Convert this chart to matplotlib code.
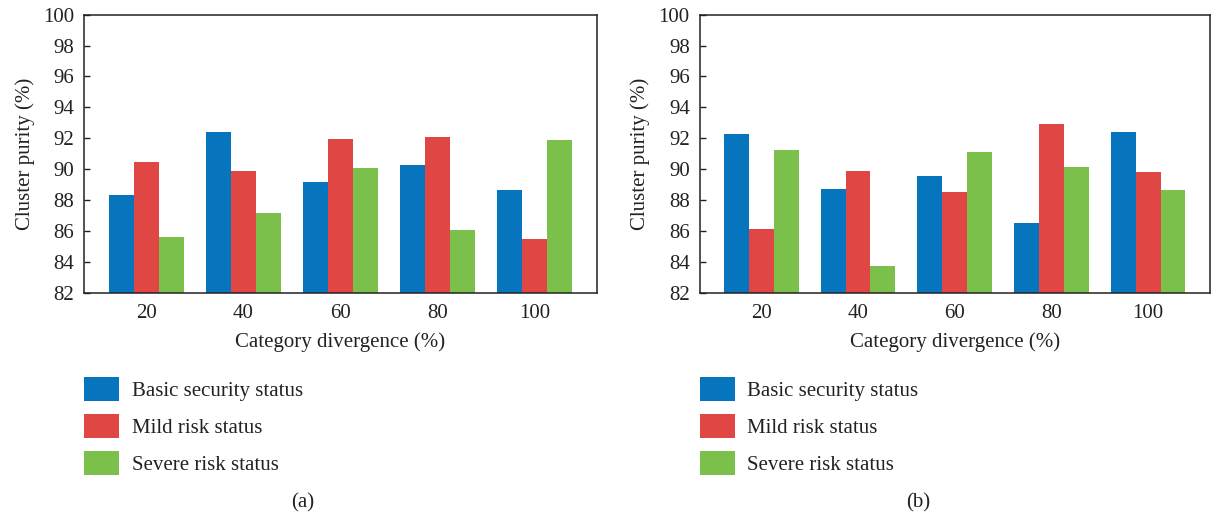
import numpy as np
import matplotlib
matplotlib.use("Agg")
import matplotlib.pyplot as plt

plt.rcParams['font.family'] = ['Liberation Serif', 'DejaVu Serif']
plt.rcParams['font.size'] = 15

divergence = ['20', '40', '60', '80', '100']
series_names = ['Basic security status', 'Mild risk status', 'Severe risk status']
colors = ['#0775bd', '#e04744', '#7bc04b']

# cluster purity (%) for panel (a)
basic_a = [88.32, 92.40, 89.19, 90.29, 88.65]
mild_a = [90.44, 89.86, 91.97, 92.06, 85.50]
severe_a = [85.58, 87.14, 90.05, 86.08, 91.86]

# cluster purity (%) for panel (b)
basic_b = [92.27, 88.73, 89.53, 86.49, 92.43]
mild_b = [86.14, 89.86, 88.54, 92.94, 89.81]
severe_b = [91.24, 83.75, 91.09, 90.12, 88.67]

W, H = 1212, 518
fig = plt.figure(figsize=(W / 100, H / 100), dpi=100)


def draw_panel(left_px, right_px, values, tag, tag_x):
    ax = fig.add_axes([left_px / W, 1 - 292.7 / H, (right_px - left_px) / W, 278 / H])
    x = np.arange(len(divergence))
    width = 0.257
    for i, (vals, name, c) in enumerate(zip(values, series_names, colors)):
        ax.bar(x + (i - 1) * width, np.array(vals) - 82, width, bottom=82,
               color=c, label=name, linewidth=0)
    ax.set_xlim(-0.64, len(divergence) - 1 + 0.64)
    ax.set_ylim(82, 100)
    ax.set_yticks(np.arange(82, 101, 2))
    ax.set_xticks(x)
    ax.set_xticklabels(divergence)
    ax.tick_params(axis='y', direction='in', length=4, width=1, pad=7, colors='#222222')
    ax.tick_params(axis='x', length=0, pad=8, colors='#222222')
    for s in ax.spines.values():
        s.set_linewidth(1.1)
        s.set_color('#222222')
    ax.set_xlabel('Category divergence (%)', color='#222222', labelpad=7)
    ax.set_ylabel('Cluster purity (%)', color='#222222', labelpad=6)

    handles, labels = ax.get_legend_handles_labels()
    fig.legend(handles, labels, loc='upper left',
               bbox_to_anchor=(left_px / W, 1 - 377 / H),
               frameon=False, handlelength=1.68, handleheight=1.4,
               labelspacing=0.62, handletextpad=0.62, borderpad=0,
               borderaxespad=0, fontsize=15, labelcolor='#222222')
    fig.text(tag_x / W, 1 - 503 / H, tag, ha='center', va='center',
             fontsize=15, color='#222222')
    return ax


draw_panel(84, 597, [basic_a, mild_a, severe_a], '(a)', 303)
draw_panel(699.5, 1210, [basic_b, mild_b, severe_b], '(b)', 918)

fig.savefig('out.png', dpi=100)
